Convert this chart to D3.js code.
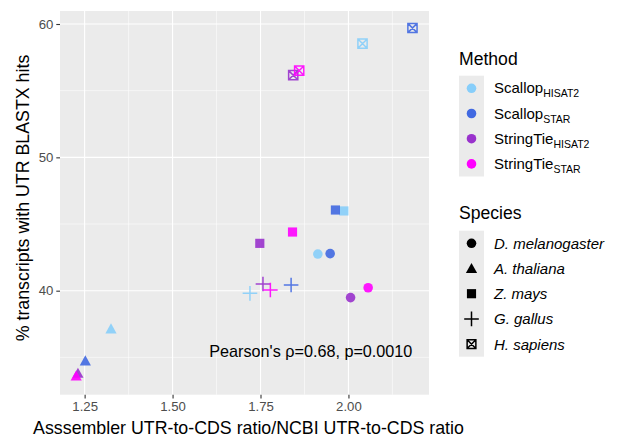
<!DOCTYPE html>
<html lang="en">
<head>
<meta charset="utf-8">
<script src="https://cdn.jsdelivr.net/npm/d3@7"></script>
<style>
  body { margin: 0; background: #fff; }
  svg { font-family: "Liberation Sans", Arial, sans-serif; }
</style>
</head>
<body>
<script>
// data
const methods = ['ScallopHISAT2', 'ScallopSTAR', 'StringTieHISAT2', 'StringTieSTAR']
const methodBase = ['Scallop', 'Scallop', 'StringTie', 'StringTie']
const methodSub = ['HISAT2', 'STAR', 'HISAT2', 'STAR']
const methodColors = ['#87CEFA', '#4169E1', '#9932CC', '#FF00FF']
const species = ['D. melanogaster', 'A. thaliana', 'Z. mays', 'G. gallus', 'H. sapiens']

// one value per species, same order as species[]
const xScallopHISAT2 = [1.913, 1.325, 1.987, 1.720, 2.040]
const yScallopHISAT2 = [42.75, 37.13, 45.98, 39.80, 58.53]
const xScallopSTAR = [1.948, 1.252, 1.963, 1.837, 2.182]
const yScallopSTAR = [42.78, 34.73, 46.05, 40.43, 59.70]
const xStringTieHISAT2 = [2.006, 1.231, 1.748, 1.757, 1.843]
const yStringTieHISAT2 = [39.48, 33.80, 43.55, 40.50, 56.16]
const xStringTieSTAR = [2.056, 1.226, 1.841, 1.778, 1.860]
const yStringTieSTAR = [40.22, 33.60, 44.40, 40.05, 56.50]

const xTicks = [1.25, 1.50, 1.75, 2.00]
const yTicks = [40, 50, 60]
const xMinor = [1.375, 1.625, 1.875, 2.125]
const yMinor = [35, 45, 55]
const annotation = "Pearson's \u03C1=0.68, p=0.0010"

const xs = [xScallopHISAT2, xScallopSTAR, xStringTieHISAT2, xStringTieSTAR]
const ys = [yScallopHISAT2, yScallopSTAR, yStringTieHISAT2, yStringTieSTAR]
const points = []
methods.forEach(function(m, i) {
  species.forEach(function(s, j) {
    points.push({method: i, species: j, x: xs[i][j], y: ys[i][j]})
  })
})

const w = 627
const h = 438
const panel = {left: 60, right: 429, top: 11, bottom: 394.7}

const x = d3.scaleLinear().domain([1.18, 2.229]).range([panel.left, panel.right])
const y = d3.scaleLinear().domain([32.2, 60.975]).range([panel.bottom, panel.top])

const svg = d3.select('body').append('svg')
  .attr('width', w)
  .attr('height', h)

svg.append('rect')
  .attr('x', panel.left).attr('y', panel.top)
  .attr('width', panel.right - panel.left)
  .attr('height', panel.bottom - panel.top)
  .attr('fill', '#EBEBEB')

// grid
svg.selectAll('.minor-x').data(xMinor).enter().append('line')
  .attr('x1', d => x(d)).attr('x2', d => x(d))
  .attr('y1', panel.top).attr('y2', panel.bottom)
  .attr('stroke', '#fff').attr('stroke-width', 0.55)
svg.selectAll('.minor-y').data(yMinor).enter().append('line')
  .attr('y1', d => y(d)).attr('y2', d => y(d))
  .attr('x1', panel.left).attr('x2', panel.right)
  .attr('stroke', '#fff').attr('stroke-width', 0.55)
svg.selectAll('.major-x').data(xTicks).enter().append('line')
  .attr('x1', d => x(d)).attr('x2', d => x(d))
  .attr('y1', panel.top).attr('y2', panel.bottom)
  .attr('stroke', '#fff').attr('stroke-width', 1.1)
svg.selectAll('.major-y').data(yTicks).enter().append('line')
  .attr('y1', d => y(d)).attr('y2', d => y(d))
  .attr('x1', panel.left).attr('x2', panel.right)
  .attr('stroke', '#fff').attr('stroke-width', 1.1)

// axes
const xAxis = svg.append('g')
  .attr('transform', 'translate(0,' + panel.bottom + ')')
  .call(d3.axisBottom(x).tickValues(xTicks).tickFormat(d3.format('.2f')).tickSize(3.7).tickPadding(3))
const yAxis = svg.append('g')
  .attr('transform', 'translate(' + panel.left + ',0)')
  .call(d3.axisLeft(y).tickValues(yTicks).tickSize(3.7).tickPadding(3))
;[xAxis, yAxis].forEach(function(a) {
  a.select('.domain').remove()
  a.selectAll('line').attr('stroke', '#333').attr('stroke-width', 1.1)
  a.selectAll('text').attr('fill', '#4D4D4D')
    .style('font-size', '13.2px')
    .style('font-family', '"Liberation Sans", Arial, sans-serif')
})

svg.append('text')
  .attr('x', (panel.left + panel.right) / 2 + 4)
  .attr('y', 434)
  .attr('text-anchor', 'middle')
  .style('font-size', '17.8px')
  .text('Asssembler UTR-to-CDS ratio/NCBI UTR-to-CDS ratio')

svg.append('text')
  .attr('transform', 'translate(29,' + 198 + ') rotate(-90)')
  .attr('text-anchor', 'middle')
  .style('font-size', '17.8px')
  .text('% transcripts with UTR BLASTX hits')

// shapes
function shapePath(s, k) {
  k = k || 1
  if (s === 0) return d3.symbol(d3.symbolCircle, 72 * k * k)()
  if (s === 1) {
    const a = 5.6 * k
    return 'M0,' + (-a * 1.0) + 'L' + a + ',' + (a * 0.8) + 'L' + (-a) + ',' + (a * 0.8) + 'Z'
  }
  if (s === 2) return d3.symbol(d3.symbolSquare, 84 * k * k)()
  if (s === 3) {
    const a = 7.3 * k
    return 'M' + (-a) + ',0L' + a + ',0M0,' + (-a) + 'L0,' + a
  }
  const a = 4.6 * k
  return 'M' + (-a) + ',' + (-a) + 'L' + a + ',' + (-a) + 'L' + a + ',' + a + 'L' + (-a) + ',' + a + 'Z' +
    'M' + (-a) + ',' + (-a) + 'L' + a + ',' + a + 'M' + a + ',' + (-a) + 'L' + (-a) + ',' + a
}
function styleShape(sel, color) {
  sel.attr('fill', d => (d.species === 3 || d.species === 4) ? 'none' : color(d))
    .attr('stroke', d => (d.species === 3 || d.species === 4) ? color(d) : 'none')
    .attr('stroke-width', 1.5)
}

svg.selectAll('.pt').data(points).enter().append('path')
  .attr('class', 'pt')
  .attr('transform', d => 'translate(' + x(d.x) + ',' + y(d.y) + ')')
  .attr('d', d => shapePath(d.species))
  .attr('opacity', 0.9)
  .call(styleShape, d => methodColors[d.method])

svg.append('text')
  .attr('x', x(1.893))
  .attr('y', y(35.0))
  .attr('text-anchor', 'middle')
  .style('font-size', '16.2px')
  .text(annotation)

// legends
const keyX = 459
const keyW = 25
const keyH = 25.2

const lg1 = svg.append('g')
lg1.append('text').attr('x', keyX).attr('y', 64.5).style('font-size', '17.6px').text('Method')
lg1.append('rect').attr('x', keyX).attr('y', 75.7).attr('width', keyW).attr('height', keyH * methods.length)
  .attr('fill', '#EBEBEB')
methods.forEach(function(m, i) {
  const cy = 75.7 + keyH * (i + 0.5)
  lg1.append('path')
    .attr('transform', 'translate(' + (keyX + keyW / 2) + ',' + cy + ')')
    .attr('d', shapePath(0))
    .attr('fill', methodColors[i])
  const t = lg1.append('text').attr('x', 494).attr('y', cy + 5).style('font-size', '15px')
  t.append('tspan').text(methodBase[i])
  t.append('tspan').attr('dy', 4).style('font-size', '10.5px').text(methodSub[i])
})

const lg2 = svg.append('g')
const top2 = 230.7
lg2.append('text').attr('x', keyX).attr('y', 218.5).style('font-size', '17.6px').text('Species')
lg2.append('rect').attr('x', keyX).attr('y', top2).attr('width', keyW).attr('height', keyH * species.length)
  .attr('fill', '#EBEBEB')
species.forEach(function(s, j) {
  const cy = top2 + keyH * (j + 0.5)
  lg2.append('path')
    .datum({species: j})
    .attr('transform', 'translate(' + (keyX + keyW / 2) + ',' + cy + ')')
    .attr('d', shapePath(j, j === 4 ? 0.95 : 1))
    .call(styleShape, () => '#000')
  lg2.append('text').attr('x', 494).attr('y', cy + 5.5)
    .style('font-size', '15px').style('font-style', 'italic')
    .text(s)
})
</script>
</body>
</html>
